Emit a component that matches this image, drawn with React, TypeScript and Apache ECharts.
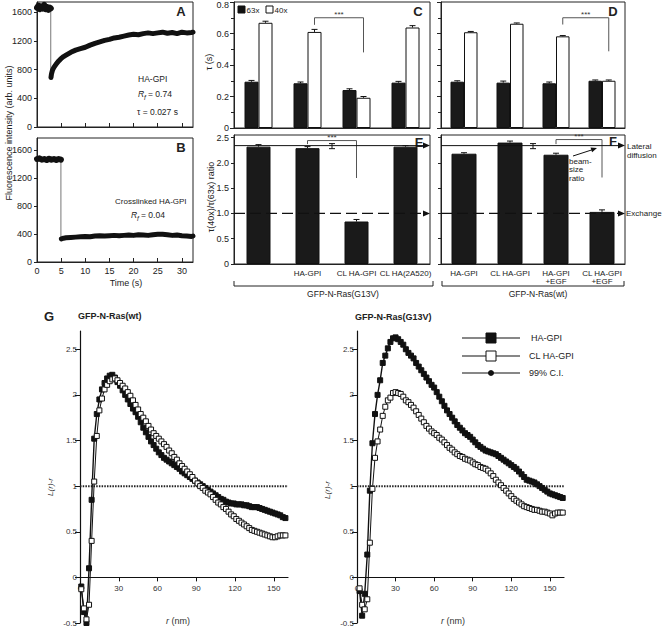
import React, { useEffect, useRef } from "react";
import * as echarts from "echarts";

// ---------------- Panel A / B : FRAP recovery ----------------
const timeTicks = [0, 5, 10, 15, 20, 25, 30];
const fluorTicks = [0, 400, 800, 1200, 1600];

const timeApre = [0, 0.3, 0.6, 0.9, 1.2, 1.5, 1.8, 2.1, 2.4, 2.7, 2.85];
const fluorApre = [1660, 1690, 1640, 1680, 1650, 1700, 1640, 1670, 1630, 1660, 1650];
const timeApost = [2.9, 3.0, 3.2, 3.5, 4, 4.5, 5, 5.5, 6, 7, 8, 9, 10, 11, 12, 13, 14, 15, 16, 17, 18, 19, 20, 21, 22, 23, 24, 25, 26, 27, 28, 29, 30, 31, 32, 32.3];
const fluorApost = [690, 740, 790, 830, 880, 920, 955, 980, 1000, 1040, 1070, 1090, 1110, 1140, 1165, 1185, 1205, 1220, 1240, 1250, 1265, 1280, 1290, 1285, 1300, 1310, 1300, 1310, 1320, 1305, 1315, 1300, 1320, 1310, 1315, 1320];

const timeBpre = [0, 0.5, 1, 1.5, 2, 2.5, 3, 3.5, 4, 4.5, 4.95];
const fluorBpre = [1470, 1480, 1460, 1470, 1455, 1475, 1460, 1470, 1455, 1470, 1460];
const timeBpost = [5.05, 5.5, 6, 7, 8, 9, 10, 11, 12, 13, 14, 15, 16, 17, 18, 19, 20, 21, 22, 23, 24, 25, 26, 27, 28, 29, 30, 31, 32, 32.3];
const fluorBpost = [330, 340, 345, 350, 355, 360, 365, 360, 370, 375, 370, 375, 380, 375, 380, 385, 380, 390, 385, 380, 390, 395, 395, 390, 380, 385, 375, 370, 365, 370];

// ---------------- Panels C-F : bars ----------------
const catsG13V = ["", "HA-GPI", "CL HA-GPI", "CL HA(2A520)"];
const catsWt = ["HA-GPI", "CL HA-GPI", "HA-GPI\n+EGF", "CL HA-GPI\n+EGF"];

const tau63C = [0.294, 0.284, 0.241, 0.288];
const tau63CErr = [0.008, 0.008, 0.008, 0.008];
const tau40C = [0.668, 0.61, 0.192, 0.638];
const tau40CErr = [0.01, 0.016, 0.008, 0.012];

const tau63D = [0.294, 0.288, 0.284, 0.3];
const tau63DErr = [0.006, 0.01, 0.008, 0.005];
const tau40D = [0.608, 0.662, 0.582, 0.3];
const tau40DErr = [0.005, 0.005, 0.005, 0.005];

const ratioE = [2.32, 2.29, 0.84, 2.32];
const ratioEErr = [0.04, 0.03, 0.04, 0.02];
const ratioF = [2.18, 2.4, 2.16, 1.03];
const ratioFErr = [0.02, 0.03, 0.03, 0.04];
const ratioTicks = [0, 0.5, 1, 1.5, 2, 2.5];

const beamRatio = 2.33;
const beamRatioErr = 0.05;
const lateralLevel = 2.34;
const exchangeLevel = 1.0;

// significance brackets: [fromCat, toCat, topValue, fromEndValue, toEndValue]
const bracketC = [1, 2, 0.7, 0.655, 0.48];
const bracketD = [2, 3, 0.7, 0.657, 0.487];
const bracketE = [1, 2, 2.44, 2.37, 1.7];
const bracketF = [2, 3, 2.46, 2.37, 1.71];

// ---------------- Panel G : Ripley's K ----------------
const rTicks = [0, 30, 60, 90, 120, 150];
const lTicks = [-0.5, 0, 0.5, 1, 1.5, 2, 2.5];
const lMin = -0.5;
const lMax = 2.7;

const rWt = [1, 3, 5, 7, 9, 11, 13, 15, 17, 19, 21, 23, 25, 27, 29, 31, 33, 35, 37, 39, 41, 43, 45, 47, 49, 51, 53, 55, 57, 59, 61, 63, 65, 67, 69, 71, 73, 75, 77, 79, 81, 83, 85, 87, 89, 91, 93, 95, 97, 99, 101, 103, 105, 107, 109, 111, 113, 115, 117, 119, 121, 123, 125, 127, 129, 131, 133, 135, 137, 139, 141, 143, 145, 147, 149, 151, 153, 155, 157, 159];
const haWt = [
  -0.1, -0.38, -0.5, 0.1, 0.85, 1.52, 1.79, 1.95, 2.06, 2.13,
  2.18, 2.21, 2.22, 2.19, 2.14, 2.1, 2.05, 2.0, 1.95, 1.9,
  1.85, 1.81, 1.76, 1.7, 1.64, 1.59, 1.54, 1.49, 1.45, 1.41,
  1.37, 1.34, 1.31, 1.29, 1.27, 1.25, 1.23, 1.21, 1.19, 1.16,
  1.14, 1.12, 1.1, 1.08, 1.06, 1.04, 1.02, 1.0, 0.98, 0.96,
  0.94, 0.92, 0.9, 0.88, 0.86, 0.85, 0.83, 0.82, 0.81, 0.81,
  0.8, 0.8, 0.8, 0.79, 0.79, 0.78, 0.77, 0.77, 0.77, 0.76,
  0.75, 0.74, 0.73, 0.72, 0.71, 0.7, 0.69, 0.68, 0.66, 0.65,
];
const clWt = [
  -0.13, -0.34, -0.46, -0.3, 0.4, 1.05, 1.55, 1.83, 1.96, 2.06,
  2.11, 2.15, 2.17, 2.18, 2.16, 2.13, 2.1, 2.07, 2.03, 1.99,
  1.94, 1.89, 1.84, 1.79, 1.75, 1.71, 1.66, 1.62, 1.58, 1.55,
  1.52, 1.49, 1.46, 1.43, 1.39, 1.36, 1.32, 1.29, 1.25, 1.22,
  1.19, 1.16, 1.13, 1.1, 1.06, 1.03, 1.0, 0.98, 0.95, 0.93,
  0.91, 0.88, 0.85, 0.82, 0.8, 0.77, 0.75, 0.72, 0.69, 0.67,
  0.64, 0.62, 0.6, 0.58, 0.56, 0.54, 0.52, 0.51, 0.5, 0.49,
  0.48, 0.47, 0.46, 0.45, 0.44, 0.44, 0.45, 0.46, 0.46, 0.46,
];

const rG13V = [2, 4, 6, 8, 10, 12, 14, 16, 18, 20, 22, 24, 26, 28, 30, 32, 34, 36, 38, 40, 42, 44, 46, 48, 50, 52, 54, 56, 58, 60, 62, 64, 66, 68, 70, 72, 74, 76, 78, 80, 82, 84, 86, 88, 90, 92, 94, 96, 98, 100, 102, 104, 106, 108, 110, 112, 114, 116, 118, 120, 122, 124, 126, 128, 130, 132, 134, 136, 138, 140, 142, 144, 146, 148, 150, 152, 154, 156, 158, 160];
const haG13V = [
  -0.15, -0.42, -0.18, 0.25, 0.95, 1.47, 1.79, 2.0, 2.16, 2.35,
  2.43, 2.51, 2.58, 2.62, 2.63, 2.61, 2.58, 2.55, 2.5, 2.46,
  2.43, 2.4, 2.35, 2.31, 2.27, 2.23, 2.19, 2.15, 2.11, 2.08,
  2.03, 1.98, 1.93, 1.88, 1.83, 1.79, 1.75, 1.71, 1.67, 1.64,
  1.61, 1.58, 1.56, 1.54, 1.51, 1.48, 1.45, 1.43, 1.41, 1.39,
  1.38, 1.37, 1.36, 1.35, 1.33, 1.31, 1.29, 1.27, 1.25, 1.23,
  1.21, 1.19, 1.16, 1.13, 1.1, 1.07, 1.06, 1.05, 1.04, 1.02,
  1.0, 0.98, 0.96, 0.94, 0.92, 0.91, 0.9, 0.89, 0.88, 0.87,
];
const clG13V = [
  -0.12, -0.3, -0.35, -0.24, 0.38, 0.97, 1.31, 1.49, 1.62, 1.77,
  1.87, 1.94, 1.97, 2.02, 2.03, 2.02, 2.01, 1.98, 1.94, 1.92,
  1.89, 1.86, 1.82, 1.78, 1.74, 1.7, 1.66, 1.63, 1.6, 1.58,
  1.56, 1.53, 1.51, 1.48, 1.45, 1.42, 1.4, 1.37, 1.35, 1.33,
  1.32, 1.3, 1.29, 1.28, 1.26, 1.24, 1.23, 1.21, 1.2, 1.19,
  1.17, 1.14, 1.11, 1.07, 1.04, 1.01, 0.98, 0.95, 0.92, 0.89,
  0.86, 0.84, 0.82, 0.8, 0.78, 0.77, 0.76, 0.75, 0.74, 0.74,
  0.73, 0.72, 0.72, 0.71, 0.7, 0.68, 0.7, 0.71, 0.71, 0.71,
];
const ciR = [0, 161];
const ciLevel = [1.0, 1.0];

// ---------------- Layout ----------------
const FONT = '"Liberation Sans", Arial, Helvetica, sans-serif';
const INK = "#1a1a1a";
const GA = { left: 37, top: 2, width: 156, height: 125 };
const GB = { left: 37, top: 138, width: 156, height: 124 };
const GC = { left: 234, top: 2, width: 196, height: 126 };
const GD = { left: 441, top: 2, width: 184, height: 126 };
const GE = { left: 234, top: 135, width: 196, height: 129 };
const GF = { left: 441, top: 135, width: 184, height: 129 };
const GL = { left: 80, top: 331, width: 208, height: 292 };
const GR = { left: 357, top: 331, width: 207, height: 292 };

const zip = (a: number[], b: number[]) => a.map((v, i) => [v, b[i]]);
const errData = (vals: number[], errs: number[], side: number) => vals.map((v, i) => [i, v, errs[i], side]);

const lbl = (o: any = {}) => ({ fontFamily: FONT, fontSize: 9, color: "#222", ...o });
const boxed = (g: any) => ({ ...g, show: true, borderColor: "#222", borderWidth: 1, backgroundColor: "rgba(0,0,0,0)", containLabel: false, outerBoundsMode: "none" });
const plain = (g: any) => ({ ...g, show: false, containLabel: false, outerBoundsMode: "none" });
const axLine = { show: true, lineStyle: { color: "#222", width: 1 } };

function errRender(halfBar: number) {
  return (params: any, api: any) => {
    const i = api.value(0), v = api.value(1), e = api.value(2), side = api.value(3);
    const base = api.coord([i, v]);
    const top = api.coord([i, v + e]);
    const x = base[0] + side * halfBar;
    const st = { stroke: "#111", lineWidth: 1 };
    return {
      type: "group",
      children: [
        { type: "line", shape: { x1: x, y1: base[1], x2: x, y2: top[1] }, style: st },
        { type: "line", shape: { x1: x - 3, y1: top[1], x2: x + 3, y2: top[1] }, style: st },
      ],
    };
  };
}

function beamRender(params: any, api: any) {
  const i = api.value(0), v = api.value(1), e = api.value(2);
  const band = api.size([1, 0])[0];
  const lo = api.coord([i, v - e]);
  const hi = api.coord([i, v + e]);
  const x = lo[0] + band / 2;
  const st = { stroke: "#111", lineWidth: 1 };
  return {
    type: "group",
    children: [
      { type: "line", shape: { x1: x, y1: lo[1], x2: x, y2: hi[1] }, style: st },
      { type: "line", shape: { x1: x - 3, y1: hi[1], x2: x + 3, y2: hi[1] }, style: st },
      { type: "line", shape: { x1: x - 3, y1: lo[1], x2: x + 3, y2: lo[1] }, style: st },
    ],
  };
}

function buildOption(): any {
  const timeX = (gi: number, labels: boolean) => ({
    gridIndex: gi, type: "value", min: 0, max: 32.3,
    axisLine: { ...axLine, onZero: false },
    axisTick: { show: true, inside: true, length: 4, lineStyle: { color: "#222" }, customValues: timeTicks },
    axisLabel: labels ? { ...lbl(), margin: 4, customValues: timeTicks } : { show: false },
    splitLine: { show: false },
  });
  const fluorY = (gi: number, max: number) => ({
    gridIndex: gi, type: "value", min: 0, max,
    axisLine: axLine,
    axisTick: { show: true, length: 3, lineStyle: { color: "#222" }, customValues: fluorTicks },
    axisLabel: { ...lbl(), margin: 5, customValues: fluorTicks, formatter: (v: number) => String(v) },
    splitLine: { show: false },
  });
  const catX = (gi: number, data: string[], labels: boolean) => ({
    gridIndex: gi, type: "category", data,
    axisLine: axLine, axisTick: { show: false },
    axisLabel: labels ? { ...lbl({ fontSize: 8 }), interval: 0, margin: 5, lineHeight: 8.5 } : { show: false },
    splitLine: { show: false },
  });
  const tauY = (gi: number, labels: boolean) => ({
    gridIndex: gi, type: "value", min: 0, max: 0.8, interval: 0.2,
    axisLine: axLine,
    axisTick: { show: true, length: 4, lineStyle: { color: "#222" } },
    minorTick: { show: true, splitNumber: 2, length: 3, lineStyle: { color: "#222" } },
    axisLabel: labels
      ? {
          ...lbl(), margin: 5,
          formatter: (v: number) => (v === 0 ? "0" : Math.abs(v - 0.8) < 1e-6 ? "{t|0.8}" : v.toFixed(1)),
          rich: { t: { fontFamily: FONT, fontSize: 9, color: "#222", padding: [6, 0, 0, 0] } },
        }
      : { show: false },
    splitLine: { show: false }, minorSplitLine: { show: false },
  });
  const ratioY = (gi: number, labels: boolean) => ({
    gridIndex: gi, type: "value", min: 0, max: 2.55,
    axisLine: axLine,
    axisTick: { show: true, length: 3, lineStyle: { color: "#222" }, customValues: ratioTicks },
    axisLabel: labels ? { ...lbl(), margin: 5, customValues: ratioTicks, formatter: (v: number) => (v === 0 ? "0" : v.toFixed(1)) } : { show: false },
    splitLine: { show: false },
  });
  const rX = (gi: number, h: number) => ({
    gridIndex: gi, type: "value", min: 0, max: 161,
    // x axis drawn at L(r)-r = 0
    offset: -((0 - lMin) / (lMax - lMin)) * h,
    axisLine: { show: true, onZero: false, lineStyle: { color: "#111", width: 1.2 } },
    axisTick: { show: true, length: 4, lineStyle: { color: "#111" }, customValues: rTicks },
    axisLabel: { ...lbl({ fontSize: 8, color: "#333" }), margin: 7, customValues: rTicks },
    splitLine: { show: false },
  });
  const lY = (gi: number) => ({
    gridIndex: gi, type: "value", min: lMin, max: lMax,
    axisLine: { show: true, onZero: false, lineStyle: { color: "#111", width: 1.2 } },
    axisTick: { show: true, length: 5, lineStyle: { color: "#111" }, customValues: lTicks },
    axisLabel: { ...lbl({ fontSize: 8, color: "#333" }), margin: 3, customValues: lTicks },
    splitLine: { show: false },
  });

  const bandLine = (xi: number, t: number[], v: number[], w: number) => ({
    type: "line", xAxisIndex: xi, yAxisIndex: xi, data: zip(t, v), symbol: "none",
    lineStyle: { color: "#111", width: w, join: "round", cap: "round" }, silent: true, z: 3,
  });
  const dropLine = (xi: number, tPre: number[], vPre: number[], vPost: number[]) => ({
    type: "line", xAxisIndex: xi, yAxisIndex: xi, symbol: "none",
    data: [[tPre[tPre.length - 1], vPre[vPre.length - 1]], [tPre[tPre.length - 1], vPost[0]]],
    lineStyle: { color: "#777", width: 1 }, silent: true, z: 2,
  });
  const bar = (xi: number, data: number[], w: number, fill: string) => ({
    type: "bar", xAxisIndex: xi, yAxisIndex: xi, data, barWidth: w, barGap: "0%",
    itemStyle: { color: fill, borderColor: "#111", borderWidth: 1 }, silent: true, z: 2,
  });
  const errs = (xi: number, data: any[], half: number) => ({
    type: "custom", xAxisIndex: xi, yAxisIndex: xi, data, renderItem: errRender(half), silent: true, z: 4,
  });
  const kLine = (xi: number, r: number[], v: number[], fill: string, w: number) => ({
    type: "line", xAxisIndex: xi, yAxisIndex: xi, data: zip(r, v),
    symbol: "rect", symbolSize: 5, showSymbol: true, showAllSymbol: true,
    lineStyle: { color: "#111", width: w },
    itemStyle: { color: fill, borderColor: "#111", borderWidth: 1 }, silent: true, z: 3,
  });
  const ciLine = (xi: number) => ({
    type: "line", xAxisIndex: xi, yAxisIndex: xi, data: zip(ciR, ciLevel), symbol: "none",
    lineStyle: { color: "#222", width: 2, type: [1.5, 1.2] }, silent: true, z: 2,
  });

  return {
    animation: false,
    backgroundColor: "#fff",
    textStyle: { fontFamily: FONT },
    grid: [boxed(GA), boxed(GB), boxed(GC), boxed(GD), boxed(GE), boxed(GF), plain(GL), plain(GR)],
    xAxis: [timeX(0, false), timeX(1, true), catX(2, catsG13V, false), catX(3, catsWt, false), catX(4, catsG13V, true), catX(5, catsWt, true), rX(6, GL.height), rX(7, GR.height)],
    yAxis: [fluorY(0, 1740), fluorY(1, 1770), tauY(2, true), tauY(3, false), ratioY(4, true), ratioY(5, false), lY(6), lY(7)],
    series: [
      dropLine(0, timeApre, fluorApre, fluorApost),
      bandLine(0, timeApre, fluorApre, 6),
      bandLine(0, timeApost, fluorApost, 5),
      dropLine(1, timeBpre, fluorBpre, fluorBpost),
      bandLine(1, timeBpre, fluorBpre, 6),
      bandLine(1, timeBpost, fluorBpost, 5),

      bar(2, tau63C, 14, INK), bar(2, tau40C, 14, "#fff"),
      errs(2, errData(tau63C, tau63CErr, -1).concat(errData(tau40C, tau40CErr, 1)), 7),
      bar(3, tau63D, 13.5, INK), bar(3, tau40D, 13.5, "#fff"),
      errs(3, errData(tau63D, tau63DErr, -1).concat(errData(tau40D, tau40DErr, 1)), 6.75),

      bar(4, ratioE, 24, INK),
      errs(4, errData(ratioE, ratioEErr, 0), 0),
      { type: "custom", xAxisIndex: 4, yAxisIndex: 4, data: [[1, beamRatio, beamRatioErr]], renderItem: beamRender, silent: true, z: 4 },
      bar(5, ratioF, 25, INK),
      errs(5, errData(ratioF, ratioFErr, 0), 0),
      { type: "custom", xAxisIndex: 5, yAxisIndex: 5, data: [[1, beamRatio, beamRatioErr]], renderItem: beamRender, silent: true, z: 4 },

      ciLine(6),
      kLine(6, rWt, haWt, "#111", 1.4),
      kLine(6, rWt, clWt, "#fff", 1),
      ciLine(7),
      kLine(7, rG13V, haG13V, "#111", 1.4),
      kLine(7, rG13V, clG13V, "#fff", 1),
    ],
  };
}

function T(x: number, y: number, text: string, o: any = {}, extra: any = {}) {
  return {
    type: "text", x, y, silent: true, z: 50, ...extra,
    style: { text, fontFamily: FONT, fontSize: 8.5, fill: "#222", align: "left", verticalAlign: "middle", ...o },
  };
}
function L(x1: number, y1: number, x2: number, y2: number, o: any = {}) {
  return { type: "line", silent: true, z: 50, shape: { x1, y1, x2, y2 }, style: { stroke: "#111", lineWidth: 1, ...o } };
}
function arrowHead(x1: number, y1: number, x2: number, y2: number, len = 7, half = 3) {
  const dx = x2 - x1, dy = y2 - y1;
  const n = Math.hypot(dx, dy) || 1;
  const ux = dx / n, uy = dy / n;
  const bx = x2 - ux * len, by = y2 - uy * len;
  return {
    type: "polygon", silent: true, z: 51,
    shape: { points: [[x2, y2], [bx - uy * half, by + ux * half], [bx + uy * half, by - ux * half]] },
    style: { fill: "#111" },
  };
}

function buildGraphics(chart: any): any[] {
  const P = (g: number, x: number, y: number) => chart.convertToPixel({ gridIndex: g }, [x, y]) as number[];
  const els: any[] = [];
  const bold = { fontWeight: "bold", fontSize: 13, align: "center" };

  // ---- A / B ----
  els.push(T(9, 133, "Fluorescence intensity (arb. units)", { align: "center", fontSize: 9 }, { rotation: Math.PI / 2 }));
  els.push(T(181, 11, "A", bold), T(181, 147, "B", bold));
  els.push(T(138, 79, "HA-GPI"));
  els.push(T(138, 94, "R", { fontStyle: "italic" }), T(144, 97, "f", { fontStyle: "italic", fontSize: 6.5 }), T(148, 94, "= 0.74"));
  els.push(T(137, 112, "\u03c4 = 0.027 s"));
  els.push(T(115, 201, "Crosslinked HA-GPI", { fontSize: 8 }));
  els.push(T(131, 215, "R", { fontStyle: "italic" }), T(137, 218, "f", { fontStyle: "italic", fontSize: 6.5 }), T(141, 215, "= 0.04"));
  els.push(T(126, 283, "Time (s)", { align: "center", fontSize: 9 }));

  // ---- C / D ----
  els.push(T(209, 62, "\u03c4 (s)", { align: "center", fontSize: 9 }, { rotation: Math.PI / 2 }));
  els.push({ type: "rect", silent: true, z: 50, shape: { x: 238, y: 6, width: 7, height: 7 }, style: { fill: "#111", stroke: "#111", lineWidth: 1 } });
  els.push(T(246.5, 10, "63x", { fontSize: 8 }));
  els.push({ type: "rect", silent: true, z: 50, shape: { x: 266, y: 6, width: 7, height: 7 }, style: { fill: "#fff", stroke: "#111", lineWidth: 1 } });
  els.push(T(274.5, 10, "40x", { fontSize: 8 }));
  els.push(T(418, 11, "C", bold), T(613, 11, "D", bold), T(419, 142, "E", bold), T(613, 141, "F", bold));
  els.push(T(211, 197, "\u03c4(40x)/\u03c4(63x) ratio", { align: "center", fontSize: 9 }, { rotation: Math.PI / 2 }));

  const bracket = (g: number, b: number[], off: number) => {
    const [from, to, top, fromEnd, toEnd] = b;
    const xl = P(g, from, top)[0] + off;
    const xr = P(g, to, top)[0] + off;
    const yt = P(g, from, top)[1];
    const yl = P(g, from, fromEnd)[1];
    const yr = P(g, to, toEnd)[1];
    els.push({ type: "polyline", silent: true, z: 50, shape: { points: [[xl, yl], [xl, yt], [xr, yt], [xr, yr]] }, style: { stroke: "#555", lineWidth: 1 } });
    els.push(T((xl + xr) / 2, yt - 3, "***", { align: "center", fontSize: 8, fill: "#333" }));
  };
  bracket(2, bracketC, 7);
  bracket(3, bracketD, 6.75);
  bracket(4, bracketE, 0);
  bracket(5, bracketF, 0);

  // ---- reference lines E / F ----
  const eL = GE.left, eR = GE.left + GE.width, fL = GF.left, fR = GF.left + GF.width;
  const yLat = P(4, 0, lateralLevel)[1];
  const yEx = P(4, 0, exchangeLevel)[1];
  els.push(L(eL, yLat, eR - 4, yLat), arrowHead(eR - 10, yLat, eR, yLat));
  els.push(L(fL, yLat, fR - 4, yLat), arrowHead(fR - 10, yLat, fR, yLat));
  els.push(L(eL, yEx, eR - 5, yEx, { lineDash: [11, 5], lineWidth: 1.3 }), arrowHead(eR - 10, yEx, eR, yEx));
  els.push(L(fL, yEx, fR - 5, yEx, { lineDash: [11, 5], lineWidth: 1.3 }), arrowHead(fR - 10, yEx, fR, yEx));
  els.push(T(627, yLat + 1, "Lateral", { fontSize: 8 }));
  els.push(T(627, yLat + 10, "diffusion", { fontSize: 8 }));
  els.push(T(626, yEx, "Exchange", { fontSize: 8 }));
  els.push(T(569, 161, "beam-", { fontSize: 8 }));
  els.push(T(569, 169.5, "size", { fontSize: 8 }));
  els.push(T(569, 178, "ratio", { fontSize: 8 }));
  els.push(L(573, 156, 593, 149.5), arrowHead(573, 156, 597, 148, 6, 2.5));

  // group brackets
  els.push({ type: "polyline", silent: true, z: 50, shape: { points: [[234, 281], [234, 286], [433, 286], [433, 281]] }, style: { stroke: "#222", lineWidth: 1 } });
  els.push({ type: "polyline", silent: true, z: 50, shape: { points: [[442, 281], [442, 286], [624, 286], [624, 281]] }, style: { stroke: "#222", lineWidth: 1 } });
  els.push(T(343, 294, "GFP-N-Ras(G13V)", { align: "center" }));
  els.push(T(538, 294, "GFP-N-Ras(wt)", { align: "center" }));

  // ---- G ----
  els.push(T(49, 316, "G", bold));
  els.push(T(78, 316, "GFP-N-Ras(wt)", { fontWeight: "bold", fontSize: 9 }));
  els.push(T(355, 317, "GFP-N-Ras(G13V)", { fontWeight: "bold", fontSize: 9 }));
  els.push(T(50, 487, "L(r)-r", { fontStyle: "italic", fontSize: 8, align: "center", fill: "#333" }, { rotation: Math.PI / 2 }));
  els.push(T(327, 490, "L(r)-r", { fontStyle: "italic", fontSize: 8, align: "center", fill: "#333" }, { rotation: Math.PI / 2 }));
  const rn = { fontSize: 9, align: "center", fill: "#333", rich: { i: { fontStyle: "italic", fontSize: 9, fontFamily: FONT, fill: "#333" } } };
  els.push(T(178, 621, "{i|r} (nm)", rn));
  els.push(T(453, 621, "{i|r} (nm)", rn));

  // legend G
  els.push(L(462, 338, 520, 338, { lineWidth: 1.2 }));
  els.push({ type: "rect", silent: true, z: 51, shape: { x: 486, y: 333, width: 10, height: 10 }, style: { fill: "#111", stroke: "#111", lineWidth: 1 } });
  els.push(L(462, 356, 520, 356, { lineWidth: 1.2 }));
  els.push({ type: "rect", silent: true, z: 51, shape: { x: 486, y: 351, width: 10, height: 10 }, style: { fill: "#fff", stroke: "#111", lineWidth: 1 } });
  els.push(L(462, 373, 520, 373, { lineWidth: 1.2 }));
  els.push({ type: "circle", silent: true, z: 51, shape: { cx: 491, cy: 373, r: 3 }, style: { fill: "#111" } });
  els.push(T(531, 338, "HA-GPI", { fontSize: 9 }), T(529, 356, "CL HA-GPI", { fontSize: 9 }), T(529, 373, "99% C.I.", { fontSize: 9 }));

  return els;
}

export default function App() {
  const ref = useRef<HTMLDivElement>(null);
  useEffect(() => {
    if (!ref.current) return;
    const chart = echarts.init(ref.current, null, { renderer: "svg" });
    chart.setOption(buildOption());
    chart.setOption({ graphic: { elements: buildGraphics(chart) } });
    return () => chart.dispose();
  }, []);
  return <div ref={ref} style={{ position: "absolute", left: 0, top: 0, width: 664, height: 628, background: "#fff" }} />;
}
